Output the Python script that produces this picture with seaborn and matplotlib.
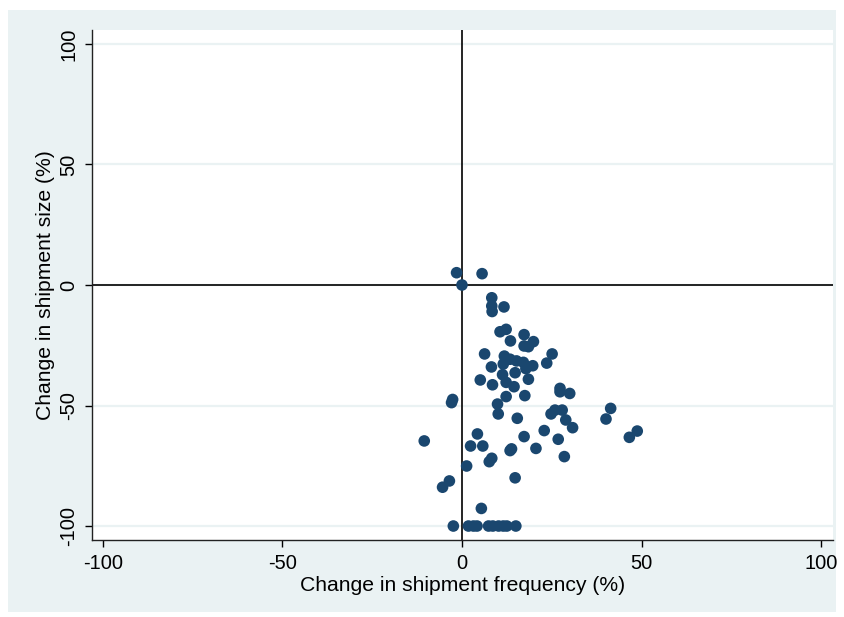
import matplotlib
matplotlib.use("Agg")
import matplotlib.pyplot as plt
import seaborn as sns
import pandas as pd
from matplotlib.patches import Rectangle

# ---- data ----
freq_change = [-1.5, 5.6, 0.0, 8.3, 8.3, 8.4, 11.7, 10.6, 12.3, 13.5,
               17.3, 19.9, 17.3, 18.5, 6.3, 25.1, 11.8, 13.4, 15.2, 17.1,
               11.5, 19.7, 23.6, 8.2, 17.8, 14.8, 11.3, 18.5, 5.1, 8.5,
               12.3, 14.5, 27.3, 30.0, 27.3, -2.6, -2.9, 12.3, 17.5,
               9.9, 10.1, 15.4, 24.8, 25.9, 27.9, 28.9, 30.8, 41.4, 40.1,
               48.8, 46.6, -10.5, 4.3, 2.4, 5.8, 17.3, 22.9, 26.8, 20.6,
               13.4, 13.8, 28.5, 7.6, 8.3, 1.3, 14.8, -3.5, -5.4, 5.4,
               -2.4, 1.8, 3.2, 4.2, 7.4, 8.6, 10.2, 11.5, 12.5, 15.0]
size_change = [5.1, 4.7, 0.0, -5.3, -8.7, -11.0, -9.1, -19.4, -18.4, -23.2,
               -20.6, -23.5, -25.3, -25.6, -28.6, -28.6, -29.5, -30.8, -31.5, -32.1,
               -32.8, -33.5, -32.4, -34.0, -34.7, -36.4, -37.2, -39.1, -39.4, -41.4,
               -40.4, -42.2, -42.9, -45.0, -44.3, -47.5, -48.8, -46.3, -45.9,
               -49.4, -53.5, -55.3, -53.5, -51.9, -51.9, -56.0, -59.2, -51.2, -55.6,
               -60.6, -63.2, -64.7, -61.8, -66.8, -66.8, -62.9, -60.4, -64.0, -67.8,
               -68.7, -68.0, -71.2, -73.3, -71.9, -75.1, -80.0, -81.3, -83.9, -92.7,
               -100, -100, -100, -100, -100, -100, -100, -100, -100, -100]

ticks = [-100, -50, 0, 50, 100]

df = pd.DataFrame({"freq": freq_change, "size": size_change})

# ---- style ----
sns.set_style("white")
plt.rcParams["font.family"] = ["Liberation Sans", "DejaVu Sans"]
plt.rcParams["text.color"] = "black"
plt.rcParams["axes.labelcolor"] = "black"
plt.rcParams["xtick.color"] = "black"
plt.rcParams["ytick.color"] = "black"

bg = "#EAF2F3"
navy = "#1A476F"

fig = plt.figure(figsize=(8.44, 6.17), dpi=100)
fig.patch.set_facecolor("white")
fig.patches.append(Rectangle((8 / 844, 1 - 612 / 617), 828 / 844, 602 / 617,
                             transform=fig.transFigure, facecolor=bg,
                             edgecolor="none", zorder=-10))

ax = fig.add_axes([92 / 844, 1 - 540 / 617, 741 / 844, 510 / 617])
ax.set_facecolor("white")

# light horizontal grid lines like Stata
for t in ticks:
    ax.axhline(t, color=bg, lw=1.6, zorder=0)

ax.axhline(0, color="black", lw=1.2, zorder=1)
ax.axvline(0, color="black", lw=1.2, zorder=1)

sns.scatterplot(data=df, x="freq", y="size", ax=ax, color=navy, s=70,
                edgecolor="none", linewidth=0, zorder=3, legend=False)

ax.set_xlim(-103, 103.3)
ax.set_ylim(-105.8, 105.8)
ax.set_xticks(ticks)
ax.set_yticks(ticks)
ax.set_xticklabels([str(t) for t in ticks], fontsize=14.5)
ax.set_yticklabels([str(t) for t in ticks], fontsize=14.5, rotation=90, va="center")
ax.tick_params(axis="both", direction="out", length=5, width=1,
               bottom=True, left=True)
ax.tick_params(axis="x", pad=5)
ax.tick_params(axis="y", pad=5)

for side in ["top", "right"]:
    ax.spines[side].set_visible(False)
for side in ["left", "bottom"]:
    ax.spines[side].set_color("#222222")
    ax.spines[side].set_linewidth(1)

ax.set_xlabel("Change in shipment frequency (%)", fontsize=15.2, labelpad=2)
ax.set_ylabel("Change in shipment size (%)", fontsize=15.2, labelpad=3)

fig.savefig("out.png", dpi=100)
